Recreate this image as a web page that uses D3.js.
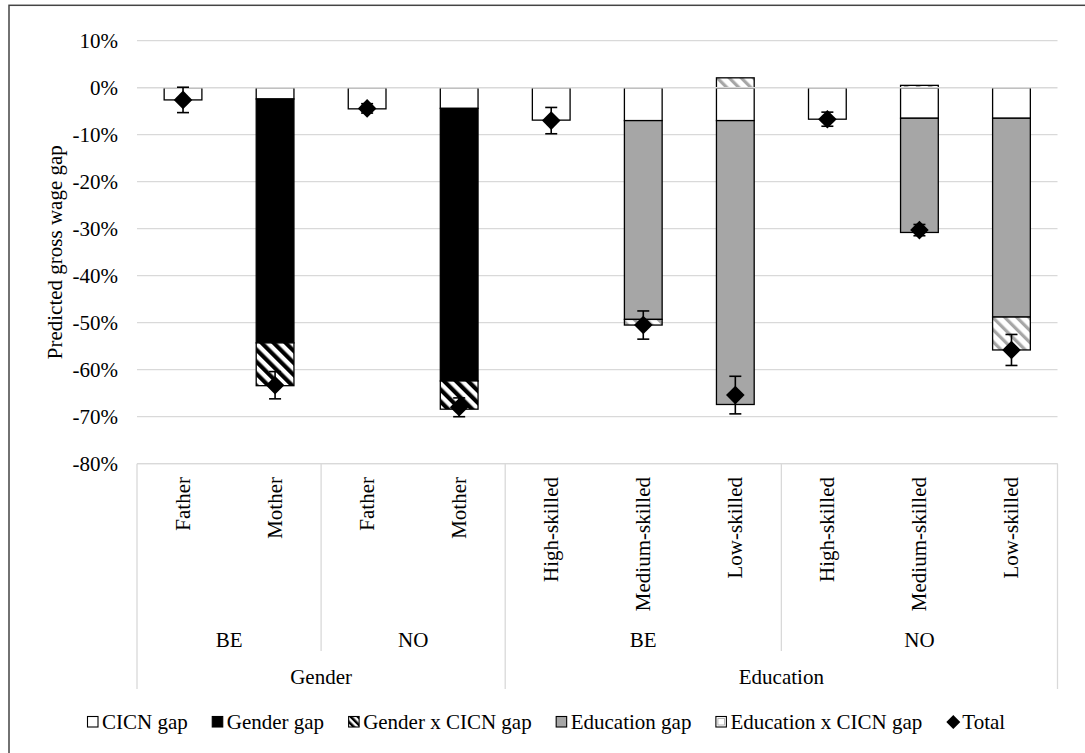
<!DOCTYPE html>
<html>
<head>
<meta charset="utf-8">
<script src="https://cdn.jsdelivr.net/npm/d3@7"></script>
<style>
  html, body { margin: 0; padding: 0; background: #fff; }
  svg, svg text { font-family: "Liberation Serif", "Times New Roman", Times, "DejaVu Serif", serif !important; }
</style>
</head>
<body>
<svg id="chart" width="1085" height="753"></svg>
<script>
// ---------------- DATA ----------------
const groups = ["Gender","Gender","Gender","Gender","Education","Education","Education","Education","Education","Education"];
const subgroups = ["BE","BE","NO","NO","BE","BE","BE","NO","NO","NO"];
const categories = ["Father","Mother","Father","Mother","High-skilled","Medium-skilled","Low-skilled","High-skilled","Medium-skilled","Low-skilled"];

const cicnGap          = [-2.6, -2.4, -4.5, -4.4, -6.9, -7.0, -7.0, -6.7, -6.5, -6.5];
const genderGap        = [0, -51.9, 0, -58.0, 0, 0, 0, 0, 0, 0];
const genderCicnGap    = [0, -9.1, 0, -6.0, 0, 0, 0, 0, 0, 0];
const educationGap     = [0, 0, 0, 0, 0, -42.3, -60.4, 0, -24.3, -42.3];
const educationCicnGap = [0, 0, 0, 0, 0, -1.2, 2.1, 0, 0.5, -7.0];
const total            = [-2.6, -63.3, -4.4, -68.0, -7.0, -50.5, -65.4, -6.7, -30.3, -55.8];
const totalError       = [2.7, 2.9, 1.0, 2.0, 2.8, 3.0, 4.0, 1.5, 1.2, 3.3];

const yTicks = [10, 0, -10, -20, -30, -40, -50, -60, -70, -80];
const seriesNames = ["CICN gap","Gender gap","Gender x CICN gap","Education gap","Education x CICN gap"];
const legendLabels = ["CICN gap","Gender gap","Gender x CICN gap","Education gap","Education x CICN gap","Total"];
const yTitle = "Predicted gross wage gap";

// ---------------- SETUP ----------------
const SERIF = '"Liberation Serif", "Times New Roman", Times, "DejaVu Serif", serif';
const svg = d3.select("#chart").attr("font-family", SERIF);
const plot = { left: 137, right: 1057.5, top: 40.7, bottom: 463.7 };
const FONT = 21;

const x = d3.scaleBand().domain(d3.range(categories.length))
  .range([plot.left, plot.right]).paddingInner(0.59).paddingOuter(0.295);
const y = d3.scaleLinear().domain([-80, 10]).range([plot.bottom, plot.top]);

// patterns
const defs = svg.append("defs");
const p1 = defs.append("pattern").attr("id", "hatchGender").attr("patternUnits", "userSpaceOnUse")
  .attr("width", 8.5).attr("height", 8.5).attr("patternTransform", "rotate(-45)");
p1.append("rect").attr("width", 8.5).attr("height", 8.5).attr("fill", "#fff");
p1.append("rect").attr("width", 4.2).attr("height", 8.5).attr("fill", "#000");

const p2 = defs.append("pattern").attr("id", "hatchEdu").attr("patternUnits", "userSpaceOnUse")
  .attr("width", 8.5).attr("height", 8.5).attr("patternTransform", "rotate(-45)");
p2.append("rect").attr("width", 8.5).attr("height", 8.5).attr("fill", "#fff");
p2.append("rect").attr("width", 3.2).attr("height", 8.5).attr("fill", "#a6a6a6");

const p3 = defs.append("pattern").attr("id", "hatchGenderSmall").attr("patternUnits", "userSpaceOnUse")
  .attr("width", 5).attr("height", 5).attr("patternTransform", "rotate(-45)");
p3.append("rect").attr("width", 5).attr("height", 5).attr("fill", "#fff");
p3.append("rect").attr("width", 2.5).attr("height", 5).attr("fill", "#000");

const fills = ["#ffffff", "#000000", "url(#hatchGender)", "#a6a6a6", "url(#hatchEdu)"];
const legendFills = ["#ffffff", "#000000", "url(#hatchGenderSmall)", "#a6a6a6", "#ffffff"];

// border
svg.append("rect").attr("x", 9).attr("y", 5.3).attr("width", 1085).attr("height", 760)
  .attr("fill", "none").attr("stroke", "#444").attr("stroke-width", 1.5);

// gridlines
svg.append("g").selectAll("line").data(yTicks.filter(t => t !== 0)).join("line")
  .attr("x1", plot.left).attr("x2", plot.right)
  .attr("y1", d => y(d)).attr("y2", d => y(d))
  .attr("stroke", "#d9d9d9").attr("stroke-width", 1.3);

// y axis labels
const yAxis = d3.axisLeft(y).tickValues(yTicks).tickFormat(d => d + "%").tickSize(0).tickPadding(0);
const yg = svg.append("g").attr("transform", `translate(118,0)`).call(yAxis);
yg.attr("font-family", SERIF).attr("font-size", FONT);
yg.select(".domain").remove();
yg.selectAll("text").attr("font-size", FONT).attr("font-family", SERIF).attr("fill", "#000");

// y title
svg.append("text").attr("transform", `translate(55,${(plot.top + plot.bottom) / 2}) rotate(-90)`)
  .attr("text-anchor", "middle").attr("dy", "0.35em").attr("font-size", FONT).attr("fill", "#000")
  .attr("font-family", SERIF)
  .text(yTitle);

// stacked bars
const rows = categories.map((c, i) => ({
  i,
  "CICN gap": cicnGap[i],
  "Gender gap": genderGap[i],
  "Gender x CICN gap": genderCicnGap[i],
  "Education gap": educationGap[i],
  "Education x CICN gap": educationCicnGap[i]
}));
const stack = d3.stack().keys(seriesNames).offset(d3.stackOffsetDiverging);
const stacked = stack(rows);

const barG = svg.append("g");
stacked.forEach((s, si) => {
  barG.append("g").selectAll("rect")
    .data(s.filter(d => d[1] - d[0] !== 0))
    .join("rect")
    .attr("x", d => x(d.data.i))
    .attr("width", x.bandwidth())
    .attr("y", d => y(Math.max(d[0], d[1])))
    .attr("height", d => Math.abs(y(d[0]) - y(d[1])))
    .attr("fill", fills[si])
    .attr("stroke", "#000").attr("stroke-width", 1.3);
});

// zero line drawn over bars
svg.append("line").attr("x1", plot.left).attr("x2", plot.right)
  .attr("y1", y(0)).attr("y2", y(0)).attr("stroke", "#d9d9d9").attr("stroke-width", 1.5);

// category axis
svg.append("line").attr("x1", plot.left).attr("x2", plot.right)
  .attr("y1", plot.bottom).attr("y2", plot.bottom).attr("stroke", "#d9d9d9").attr("stroke-width", 1.3);

// divider lines
const step = x.step();
const edge = i => plot.left + i * step;
const dividers = [];
for (let i = 0; i <= categories.length; i++) {
  if (i === 0 || i === categories.length || groups[i] !== groups[i - 1]) dividers.push({ x: edge(i), y2: 689 });
  else if (subgroups[i] !== subgroups[i - 1]) dividers.push({ x: edge(i), y2: 651 });
}
svg.append("g").selectAll("line").data(dividers).join("line")
  .attr("x1", d => d.x).attr("x2", d => d.x).attr("y1", plot.bottom).attr("y2", d => d.y2)
  .attr("stroke", "#d9d9d9").attr("stroke-width", 1.3);

// category labels
svg.append("g").selectAll("text").data(categories).join("text")
  .attr("transform", (d, i) => `translate(${x(i) + x.bandwidth() / 2},477) rotate(-90)`)
  .attr("text-anchor", "end").attr("dy", "0.33em").attr("font-size", FONT).attr("fill", "#000")
  .attr("font-family", SERIF)
  .text(d => d);

// subgroup labels
const subSpans = [];
categories.forEach((c, i) => {
  const key = groups[i] + "|" + subgroups[i];
  const last = subSpans[subSpans.length - 1];
  if (last && last.key === key) last.end = i; else subSpans.push({ key, label: subgroups[i], start: i, end: i });
});
svg.append("g").selectAll("text").data(subSpans).join("text")
  .attr("x", d => (edge(d.start) + edge(d.end + 1)) / 2).attr("y", 647)
  .attr("text-anchor", "middle").attr("font-size", FONT).attr("fill", "#000")
  .attr("font-family", SERIF).text(d => d.label);

const grpSpans = [];
categories.forEach((c, i) => {
  const last = grpSpans[grpSpans.length - 1];
  if (last && last.label === groups[i]) last.end = i; else grpSpans.push({ label: groups[i], start: i, end: i });
});
svg.append("g").selectAll("text").data(grpSpans).join("text")
  .attr("x", d => (edge(d.start) + edge(d.end + 1)) / 2).attr("y", 684)
  .attr("text-anchor", "middle").attr("font-size", FONT).attr("fill", "#000")
  .attr("font-family", SERIF).text(d => d.label);

// error bars + diamonds
const eg = svg.append("g");
total.forEach((t, i) => {
  const cx = x(i) + x.bandwidth() / 2;
  const e = totalError[i];
  eg.append("line").attr("x1", cx).attr("x2", cx).attr("y1", y(t + e)).attr("y2", y(t - e))
    .attr("stroke", "#000").attr("stroke-width", 1.6);
  [t + e, t - e].forEach(v => eg.append("line").attr("x1", cx - 6).attr("x2", cx + 6)
    .attr("y1", y(v)).attr("y2", y(v)).attr("stroke", "#000").attr("stroke-width", 1.6));
});
const diamond = (cx, cy, r) => `M${cx},${cy - r}L${cx + r},${cy}L${cx},${cy + r}L${cx - r},${cy}Z`;
eg.selectAll("path").data(total).join("path")
  .attr("d", (d, i) => diamond(x(i) + x.bandwidth() / 2, y(d), 9.3))
  .attr("fill", "#000");

// legend
const lg = svg.append("g");
let lx = 87;
const ly = 722;
legendLabels.forEach((lab, i) => {
  if (i < 5) {
    lg.append("rect").attr("x", lx + 0.5).attr("y", ly - 5.5).attr("width", 10.5).attr("height", 10.5)
      .attr("fill", legendFills[i]).attr("stroke", "#000").attr("stroke-width", 1.1);
    if (i === 4) {
      lg.append("rect").attr("x", lx + 2.5).attr("y", ly - 3.5).attr("width", 6.5).attr("height", 6.5)
        .attr("fill", "none").attr("stroke", "#a6a6a6").attr("stroke-width", 0.8);
    }
  } else {
    lg.append("path").attr("d", diamond(lx + 7, ly, 7)).attr("fill", "#000");
  }
  const tx = lx + (i < 5 ? 15 : 16);
  const t = lg.append("text").attr("x", tx).attr("y", ly + 7).attr("font-size", FONT).attr("fill", "#000")
    .attr("font-family", SERIF).text(lab);
  lx = tx + t.node().getComputedTextLength() + 24;
});
</script>
</body>
</html>
